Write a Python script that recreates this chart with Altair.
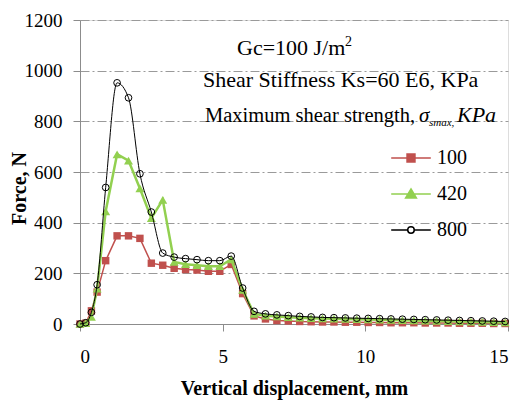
import altair as alt
import pandas as pd

# ---- data ----
disp = [0, 0.2, 0.4, 0.6, 0.9, 1.3, 1.7, 2.1, 2.5, 2.9, 3.3, 3.7, 4.1, 4.5, 4.9, 5.3, 5.7,
        6.1, 6.5, 6.9, 7.3, 7.7, 8.1, 8.5, 8.9, 9.3, 9.7, 10.1, 10.5, 10.9, 11.3, 11.7,
        12.1, 12.5, 12.9, 13.3, 13.7, 14.1, 14.5, 14.9]
f100 = [0, 3, 52, 126, 250, 348, 348, 338, 240, 232, 220, 215, 213, 208, 208, 235, 120,
        32, 20, 14, 12, 10, 9, 8, 8, 7, 7, 6, 6, 5, 5, 5, 4, 4, 4, 3, 3, 3, 2, 2]
f420 = [0, 3, 28, 140, 445, 670, 645, 535, 418, 490, 245, 236, 232, 228, 228, 255, 135,
        40, 33, 30, 27, 25, 23, 22, 21, 20, 19, 18, 17, 16, 15, 14, 13, 12, 11, 10, 9, 8, 7, 6]
f800 = [0, 5, 46, 155, 539, 952, 893, 593, 442, 280, 264, 258, 254, 250, 250, 268, 142,
        50, 40, 36, 33, 30, 28, 26, 25, 24, 23, 22, 21, 20, 19, 18, 17, 16, 15, 14, 13, 12, 11, 10]
series_names = ["100", "420", "800"]
x_ticks = [0, 5, 10, 15]
y_ticks = [0, 200, 400, 600, 800, 1000, 1200]

txt_gc = "Gc=100 J/m"
txt_sup = "2"
txt_ks = "Shear Stiffness Ks=60 E6, KPa"
txt_max = "Maximum shear strength,"
txt_sigma = "σ"
txt_sub = "smax,"
txt_kpa = "KPa"

x_title = "Vertical displacement, mm"
y_title = "Force, N"

# ---- styles ----
FONT = "Liberation Serif"
FONT_L = "'Liberation Serif', 'Times New Roman', serif"
RED = "#c0504d"
GREEN = "#92d050"
BLACK = "#000000"

rows = []
for name, vals in zip(series_names, [f100, f420, f800]):
    for xv, yv in zip(disp, vals):
        rows.append({"x": xv, "force": yv, "series": name})
df = pd.DataFrame(rows)

xenc = alt.X("x:Q", scale=alt.Scale(domain=[0, 15], nice=False),
             axis=alt.Axis(values=x_ticks, title=x_title, grid=False, format="d",
                           labelFont=FONT_L, labelFontSize=19,
                           labelPadding=16, titleY=70, titleBaseline="alphabetic"))
yenc = alt.Y("force:Q", scale=alt.Scale(domain=[0, 1200], nice=False),
             axis=alt.Axis(values=y_ticks, title=y_title, grid=True, format="d",
                           labelFont=FONT_L, labelFontSize=19,
                           gridDash=[9, 3, 2, 3], gridColor="#9a9a9a", gridWidth=1,
                           labelPadding=11, titleX=-55, titleY=168,
                           titleBaseline="alphabetic", titleAngle=270))

base = alt.Chart(df)

def series_layers(name, color, line_w, shape, size, filled, interp):
    sub = base.transform_filter(alt.datum.series == name)
    line = sub.mark_line(color=color, strokeWidth=line_w, interpolate=interp).encode(
        x=xenc, y=yenc, order="x:Q")
    if filled:
        pts = sub.mark_point(shape=shape, size=size, filled=True, color=color,
                             opacity=1).encode(x=xenc, y=yenc)
    else:
        pts = sub.mark_point(shape=shape, size=size, filled=False, color=color,
                             strokeWidth=1, opacity=1).encode(x=xenc, y=yenc)
    return [line, pts]

layers = []
layers += series_layers("100", RED, 1.5, "square", 55, True, "linear")
layers += series_layers("420", GREEN, 2.5, "triangle-up", 80, True, "linear")
layers += series_layers("800", BLACK, 1.0, "circle", 45, False, "monotone")

# legend layer (invisible marks, legend drawn with line+marker symbols)
leg_shapes = [
    "M-1.1,0H1.1M-0.22,-0.22H0.22V0.22H-0.22Z",
    "M-1.1,0H1.1M0,-0.28L0.3,0.22H-0.3Z",
    "M-1.1,0H-0.18M0.18,0H1.1M0.18,0A0.18,0.18,0,1,1,-0.18,0A0.18,0.18,0,1,1,0.18,0Z",
]
leg = alt.Legend(title=None, orient="none", legendX=312, legendY=119,
                 symbolSize=1296, symbolStrokeWidth=1.5, symbolOpacity=1,
                 labelFont=FONT_L, labelFontSize=20, labelColor="black",
                 labelOffset=7, rowPadding=7, padding=0)
legend_layer = base.mark_point(filled=True, opacity=0, size=1).encode(
    x=xenc, y=yenc,
    shape=alt.Shape("series:N", scale=alt.Scale(domain=series_names, range=leg_shapes), legend=leg),
    fill=alt.Fill("series:N", scale=alt.Scale(domain=series_names, range=[RED, GREEN, "white"]), legend=leg),
    stroke=alt.Stroke("series:N", scale=alt.Scale(domain=series_names, range=[RED, GREEN, BLACK]), legend=leg),
)
layers.append(legend_layer)

def label(text, px, py, size=22, style="normal", align="left"):
    d = pd.DataFrame({"t": [text]})
    return alt.Chart(d).mark_text(font=FONT, fontSize=size, fontStyle=style, align=align,
                                  baseline="alphabetic", color="black").encode(
        x=alt.value(px), y=alt.value(py), text="t:N")

layers += [
    label(txt_gc, 157, 35),
    label(txt_sup, 265, 26, size=14),
    label(txt_ks, 123, 67),
    label(txt_max, 125, 102, size=20.5),
    label(txt_sigma, 339, 102, size=21, style="italic"),
    label(txt_sub, 349, 106, size=11, style="italic"),
    label(txt_kpa, 377, 102, size=22, style="italic"),
]

chart = alt.layer(*layers).resolve_scale(
    shape="independent", fill="independent", stroke="independent"
).properties(
    width=428, height=304,
    padding={"left": 80, "top": 20, "right": 11, "bottom": 76},
    autosize=alt.AutoSizeParams(type="none"),
).configure_view(stroke="#222222", strokeWidth=1).configure(
    background="white", font=FONT, style={"guide-label": {"font": FONT_L}}
).configure_axis(
    domainColor="#8c8c8c", tickColor="#8c8c8c", tickSize=7,
    labelFont=FONT_L, labelFontSize=19, labelColor="black",
    titleFont=FONT, titleFontSize=20, titleFontWeight="bold", titleColor="black",
).configure_legend(
    labelFont=FONT_L, labelFontSize=20, labelColor="black",
).configure_text(font=FONT)

chart.save("out.html", embed_options={"renderer": "svg", "actions": False})
